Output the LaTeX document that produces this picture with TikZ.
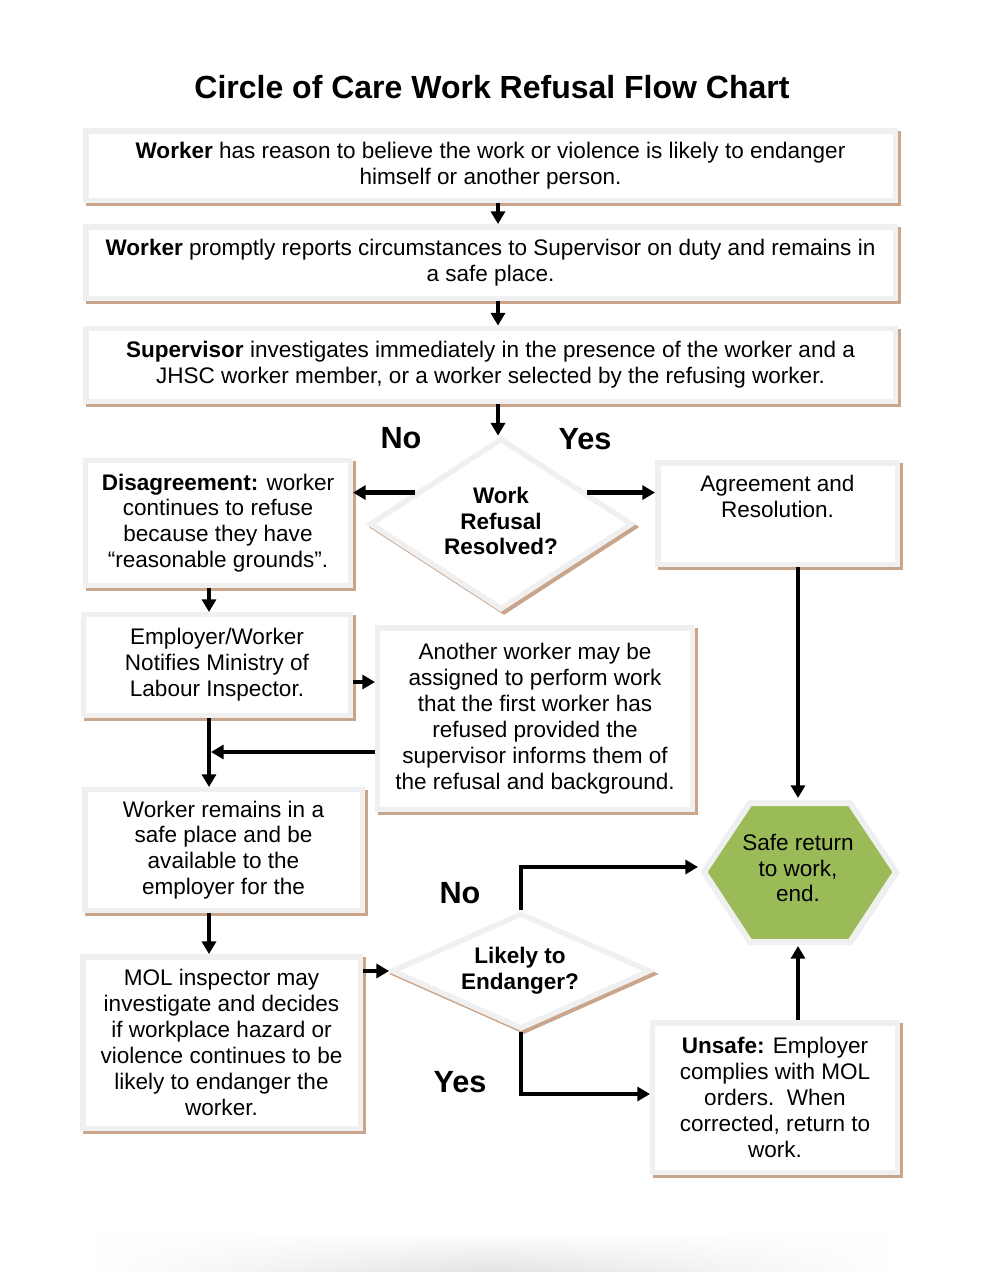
\documentclass[tikz,border=0pt]{standalone}
\usepackage{fontspec}
\setmainfont{Liberation Sans}
\usetikzlibrary{arrows.meta,shapes.geometric,fadings}
\definecolor{boxgray}{RGB}{240,240,240}
\definecolor{shadowtan}{RGB}{201,165,140}
\definecolor{hexshadow}{RGB}{200,200,200}
\definecolor{hexgreen}{RGB}{155,187,89}
\newcommand\myBodyFont{\fontsize{16.9pt}{19.4pt}\selectfont}
\newcommand\myLabelFont{\fontsize{23pt}{26pt}\selectfont\bfseries}
\tikzfading[name=fadesides, left color=transparent!100, right color=transparent!100, middle color=transparent!0]
\tikzset{
  shadowed/.style={preaction={draw=shadowtan, fill=shadowtan, transform canvas={xshift=2.25pt, yshift=-2.25pt}}},
  box/.style={shadowed, draw=boxgray, line width=4.1pt, fill=white, inner sep=0pt,
    align=center, font=\myBodyFont},
  diam/.style={shadowed, shape=diamond, draw=boxgray, line width=4.1pt, fill=white, inner sep=0pt},
  dtext/.style={align=center, font=\myBodyFont\bfseries, inner sep=0pt},
  lbl/.style={font=\myLabelFont, inner sep=0pt},
  arr/.style={line width=3.4pt, -{Triangle[length=9.5pt,width=10.5pt]}},
}
\begin{document}
\begin{tikzpicture}[x=0.75pt, y=-0.75pt]
\useasboundingbox (0,0) rectangle (983,1272);
\fill[white] (0,0) rectangle (983,1272);

% bottom page shadow
\shade[top color=white, bottom color=black!11, path fading=fadesides] (95,1232) rectangle (890,1272);

% title
\node[inner sep=0pt, font=\fontsize{24pt}{28pt}\selectfont\bfseries] (title) at (492,87) {Circle of Care Work Refusal Flow Chart};

% top boxes
\node[box, minimum width=607.1pt, minimum height=52.1pt] (b1) at (490.5,165.5)
  {\textbf{Worker} has reason to believe the work or violence is likely to endanger\\himself or another person.};
\node[box, minimum width=607.1pt, minimum height=53.6pt] (b2) at (490.5,262.5)
  {\textbf{Worker} promptly reports circumstances to Supervisor on duty and remains in\\a safe place.};
\node[box, minimum width=607.1pt, minimum height=55.1pt] (b3) at (490.5,365)
  {\textbf{Supervisor} investigates immediately in the presence of the worker and a\\JHSC worker member, or a worker selected by the refusing worker.};

% decision 1
\node[diam, minimum width=197pt, minimum height=128.5pt] (d1) at (501,524) {};
\node[dtext] (d1t) at (501,521) {Work\\Refusal\\Resolved?};
\node[lbl] (no1) at (401,438) {No};
\node[lbl] (yes1) at (585,439) {Yes};

% left column
\node[box, minimum width=198.4pt, minimum height=93.4pt] (dis) at (218,523)
  {\textbf{Disagreement:} worker\\continues to refuse\\because they have\\“reasonable grounds”.};
\node[box, minimum width=199.9pt, minimum height=75.4pt] (emp) at (217,665)
  {Employer/Worker\\Notifies Ministry of\\Labour Inspector.};
\node[box, minimum width=235.9pt, minimum height=136.1pt] (ano) at (535,718.5)
  {Another worker may be\\assigned to perform work\\that the first worker has\\refused provided the\\supervisor informs them of\\the refusal and background.};
\node[box, minimum width=179.6pt, minimum height=76.1pt] (agr) at (777.5,513.5)
  {Agreement and\\Resolution.\\\strut};
\node[box, minimum width=208.1pt, minimum height=90.4pt] (wr) at (223.5,850)
  {Worker remains in a\\safe place and be\\available to the\\employer for the};
\node[box, minimum width=208.1pt, minimum height=128.6pt] (mol) at (221.5,1042.5)
  {MOL inspector may\\investigate and decides\\if workplace hazard or\\violence continues to be\\likely to endanger the\\worker.};
\node[box, minimum width=183.4pt, minimum height=112.1pt] (uns) at (775,1097.5)
  {\textbf{Unsafe:} Employer\\complies with MOL\\orders.\ \ When\\corrected, return to\\work.};

% decision 2
\node[diam, minimum width=193.8pt, minimum height=87pt] (d2) at (521,971) {};
\node[dtext] (d2t) at (520,971) {Likely to\\Endanger?};
\node[lbl] (no2) at (460,893) {No};
\node[lbl] (yes2) at (460,1082) {Yes};

% hexagon
\draw[preaction={draw=hexshadow, fill=hexshadow, transform canvas={xshift=1.5pt, yshift=-1.5pt}},
  draw=boxgray, line width=4.5pt, fill=hexgreen, line join=miter]
  (704,872) -- (750,803) -- (850,803) -- (896,872) -- (850,942) -- (750,942) -- cycle;
\node[align=center, font=\myBodyFont, inner sep=0pt] (hex) at (798,868) {Safe return\\to work,\\end.};
\coordinate (hexT) at (798,798);
\coordinate (hexB) at (798,946);
\coordinate (hexL) at (698,867);

% connectors
\coordinate (cx) at (498,0);
\coordinate (lx) at (209,0);
\draw[arr] (b1.south -| cx) -- (b2.north -| cx);
\draw[arr] (b2.south -| cx) -- (b3.north -| cx);
\draw[arr] (b3.south -| cx) -- (d1.north -| cx);
\draw[arr] (d1.160) -- (d1.160 -| dis.east);
\draw[arr] (d1.20) -- (d1.20 -| agr.west);
\draw[arr] (dis.south -| lx) -- (emp.north -| lx);
\draw[arr] (emp.east |- 0,682) -- (ano.west |- 0,682);
\draw[arr] (emp.south -| lx) -- (wr.north -| lx);
\draw[arr] (ano.west |- 0,752) -- (211,752);
\draw[arr] (wr.south -| lx) -- (mol.north -| lx);
\draw[arr] (mol.east |- d2.west) -- (d2.west);
\draw[arr] (d2.north) |- (hexL);
\draw[arr] (d2.south) |- (uns.west |- 0,1094);
\draw[arr] (hexT |- agr.south) -- (hexT);
\draw[arr] (hexB |- uns.north) -- (hexB);
\end{tikzpicture}
\end{document}
